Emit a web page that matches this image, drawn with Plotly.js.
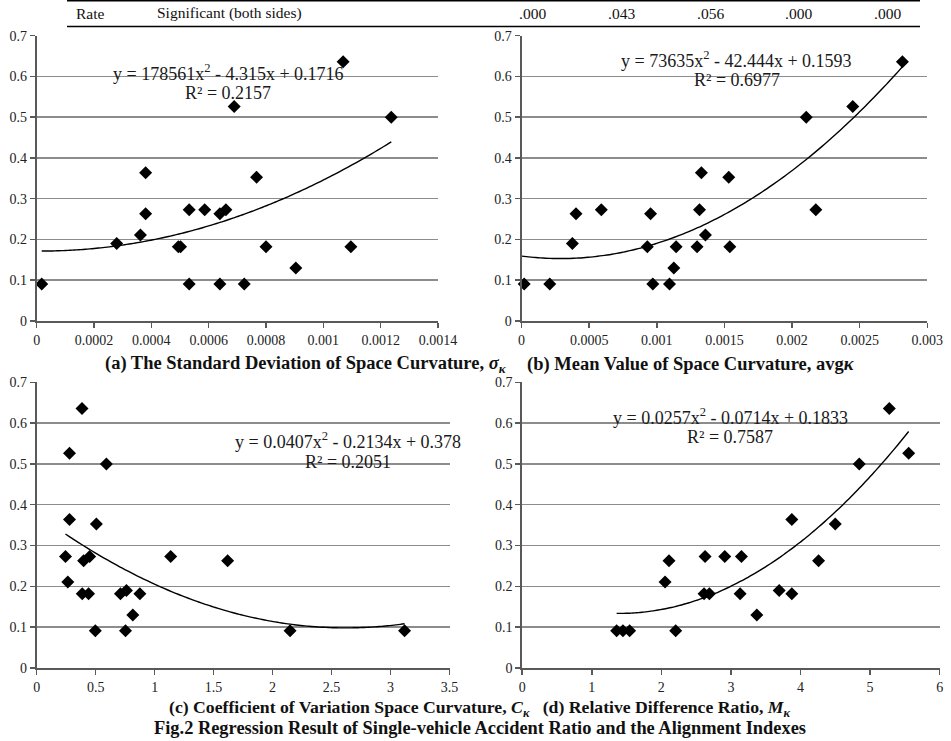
<!DOCTYPE html>
<html>
<head>
<meta charset="utf-8">
<script src="https://cdn.plot.ly/plotly-3.0.1.min.js"></script>
<style>
  html, body { margin: 0; padding: 0; background: #fff; }
  #chart { width: 951px; height: 741px; }
</style>
</head>
<body>
<div id="chart"></div>
<script>
// ---------- DATA ----------
// (a) Standard deviation of space curvature vs. single-vehicle accident ratio
const sigmaK = [0.0000175, 0.000279, 0.000362, 0.00038, 0.00038, 0.000494, 0.000502, 0.000532, 0.000532, 0.000586, 0.000639, 0.00066, 0.000639, 0.000689, 0.000724, 0.000767, 0.0008, 0.000904, 0.001069, 0.001096, 0.001237];
const ratioA = [0.091, 0.19, 0.211, 0.364, 0.263, 0.182, 0.182, 0.273, 0.091, 0.273, 0.263, 0.273, 0.091, 0.526, 0.091, 0.353, 0.182, 0.13, 0.636, 0.182, 0.5];
// (b) Mean value of space curvature
const avgK = [0.00002, 0.000209, 0.000376, 0.000403, 0.00059, 0.00093, 0.000954, 0.000971, 0.001094, 0.001126, 0.001143, 0.001298, 0.001316, 0.00133, 0.00136, 0.001532, 0.00154, 0.002105, 0.002176, 0.002449, 0.002816];
const ratioB = [0.091, 0.091, 0.19, 0.263, 0.273, 0.182, 0.263, 0.091, 0.091, 0.13, 0.182, 0.182, 0.273, 0.364, 0.211, 0.353, 0.182, 0.5, 0.273, 0.526, 0.636];
// (c) Coefficient of variation of space curvature
const cK = [0.384, 0.278, 0.591, 0.278, 0.506, 0.244, 0.398, 0.449, 0.264, 0.386, 0.44, 0.497, 0.71, 0.761, 0.753, 0.815, 0.875, 1.136, 1.619, 2.148, 3.119];
const ratioC = [0.636, 0.526, 0.5, 0.364, 0.353, 0.273, 0.263, 0.273, 0.211, 0.182, 0.182, 0.091, 0.182, 0.19, 0.091, 0.13, 0.182, 0.273, 0.263, 0.091, 0.091];
// (d) Relative difference ratio
const mK = [1.357, 1.448, 1.544, 2.053, 2.11, 2.206, 2.628, 2.614, 2.69, 2.911, 3.132, 3.151, 3.372, 3.693, 3.875, 3.875, 4.259, 4.499, 4.844, 5.276, 5.554];
const ratioD = [0.091, 0.091, 0.091, 0.211, 0.263, 0.091, 0.273, 0.182, 0.182, 0.273, 0.182, 0.273, 0.13, 0.19, 0.182, 0.364, 0.263, 0.353, 0.5, 0.636, 0.526];

// Printed polynomial trendline coefficients [x^2, x, const]
const trendA = [178561, -4.315, 0.1716];
const trendB = [73635, -42.444, 0.1593];
const trendC = [0.0407, -0.2134, 0.378];
const trendD = [0.0257, -0.0714, 0.1833];
const trendStartB = 0;   // Excel trendline in (b) starts at the origin

const eqTexts = ["y = 178561x<sup>2</sup> - 4.315x + 0.1716", "y = 73635x<sup>2</sup> - 42.444x + 0.1593",
                 "y = 0.0407x<sup>2</sup> - 0.2134x + 0.378", "y = 0.0257x<sup>2</sup> - 0.0714x + 0.1833"];
const r2Texts = ["R² = 0.2157", "R² = 0.6977", "R² = 0.2051", "R² = 0.7587"];

// Table row above the figure
const tableLabels = ["Rate", "Significant (both sides)"];
const tableValues = [".000", ".043", ".056", ".000", ".000"];

const captionA = "<b>(a) The Standard Deviation of Space Curvature, <i>σ<sub>κ</sub></i></b>";
const captionB = "<b>(b) Mean Value of Space Curvature, avg<i>κ</i></b>";
const captionCD = "<b>(c) Coefficient of Variation Space Curvature, <i>C<sub>κ</sub></i>   (d) Relative Difference Ratio, <i>M<sub>κ</sub></i></b>";
const captionFig = "<b>Fig.2 Regression Result of Single-vehicle Accident Ratio and the Alignment Indexes</b>";

// ---------- BUILD ----------
const W = 951, H = 741;
const FONT = 'Liberation Serif, Times New Roman, serif';

function curve(coef, xs, x0) {
  const lo = (x0 !== undefined) ? x0 : Math.min(...xs);
  const hi = Math.max(...xs);
  const n = 80, cx = [], cy = [];
  for (let i = 0; i <= n; i++) {
    const x = lo + (hi - lo) * i / n;
    cx.push(x);
    cy.push(coef[0] * x * x + coef[1] * x + coef[2]);
  }
  return {cx, cy};
}

const panels = [
  {xs: sigmaK, ys: ratioA, coef: trendA, x0: undefined, xr: [0, 0.0014], dt: 0.0002, px: [36.7, 438], py: [321, 35.7]},
  {xs: avgK, ys: ratioB, coef: trendB, x0: trendStartB, xr: [0, 0.003], dt: 0.0005, px: [521.5, 927.3], py: [321, 35.7]},
  {xs: cK, ys: ratioC, coef: trendC, x0: undefined, xr: [0, 3.5], dt: 0.5, px: [36.7, 449.5], py: [668, 382.3]},
  {xs: mK, ys: ratioD, coef: trendD, x0: undefined, xr: [0, 6], dt: 1, px: [522.2, 939.7], py: [668, 382.3]},
];

const traces = [];
const layout = {
  width: W, height: H,
  margin: {l: 0, r: 0, t: 0, b: 0},
  paper_bgcolor: '#ffffff', plot_bgcolor: 'rgba(0,0,0,0)',
  showlegend: false,
  font: {family: FONT, size: 14, color: '#222'},
  annotations: [], shapes: []
};

panels.forEach((p, i) => {
  const k = i === 0 ? '' : String(i + 1);
  const xa = 'x' + k, ya = 'y' + k;
  traces.push({
    type: 'scatter', mode: 'markers', x: p.xs, y: p.ys, xaxis: xa, yaxis: ya,
    marker: {symbol: 'diamond', size: 10, color: '#000'}, cliponaxis: false, hoverinfo: 'skip'
  });
  const c = curve(p.coef, p.xs, p.x0);
  traces.push({
    type: 'scatter', mode: 'lines', x: c.cx, y: c.cy, xaxis: xa, yaxis: ya,
    line: {color: '#000', width: 1.4, shape: 'spline'}, cliponaxis: false, hoverinfo: 'skip'
  });
  layout['xaxis' + k] = {
    domain: [p.px[0] / W, p.px[1] / W], range: p.xr, dtick: p.dt, tick0: 0,
    anchor: ya, showline: true, linecolor: '#595959', linewidth: 2,
    ticks: 'outside', ticklen: 5, tickcolor: '#595959', tickwidth: 1.5,
    showgrid: false, zeroline: false, tickformat: '~g',
    tickfont: {family: FONT, size: 14, color: '#222'}, fixedrange: true
  };
  layout['yaxis' + k] = {
    domain: [(H - p.py[0]) / H, (H - p.py[1]) / H], range: [0, 0.7], dtick: 0.1, tick0: 0,
    anchor: xa, showline: true, linecolor: '#595959', linewidth: 2,
    ticks: 'outside', ticklen: 5, tickcolor: '#595959', tickwidth: 1.5,
    showgrid: true, gridcolor: '#8c8c8c', gridwidth: 1.5, zeroline: false,
    tickfont: {family: FONT, size: 14, color: '#222'}, fixedrange: true
  };
});

// Trendline labels (positions in pixel-space of paper)
const eqPos = [[228, 72.3, 92.7], [736.5, 59.3, 80], [347.5, 441, 461.7], [730, 416, 436.7]];
eqPos.forEach((e, i) => {
  layout.annotations.push({xref: 'paper', yref: 'paper', x: e[0] / W, y: 1 - e[1] / H, xanchor: 'center', yanchor: 'middle',
    text: eqTexts[i], showarrow: false, font: {family: FONT, size: 18, color: '#1a1a1a'}});
  layout.annotations.push({xref: 'paper', yref: 'paper', x: e[0] / W, y: 1 - e[2] / H, xanchor: 'center', yanchor: 'middle',
    text: r2Texts[i], showarrow: false, font: {family: FONT, size: 18, color: '#1a1a1a'}});
});

// Captions
function ann(text, x, y, anchor, size) {
  layout.annotations.push({xref: 'paper', yref: 'paper', x: x / W, y: 1 - y / H, xanchor: anchor, yanchor: 'middle',
    text: text, showarrow: false, font: {family: FONT, size: size, color: '#111'}});
}
ann(captionA, 103, 364, 'left', 18.5);
ann(captionB, 525, 364, 'left', 18.5);
ann(captionCD, 480, 708, 'center', 17.7);
ann(captionFig, 480, 728, 'center', 18.4);

// Table row
const labelX = [90, 229];
tableLabels.forEach((t, i) => ann(t, labelX[i], 13, 'center', 15.5));
const valueX = [532, 621, 710, 798, 887];
tableValues.forEach((t, i) => ann(t, valueX[i], 13, 'center', 15.5));
layout.shapes.push({type: 'line', xref: 'paper', yref: 'paper', x0: 67 / W, x1: 920 / W, y0: 1 - 26.5 / H, y1: 1 - 26.5 / H,
  line: {color: '#000', width: 1.5}});
layout.shapes.push({type: 'line', xref: 'paper', yref: 'paper', x0: 67 / W, x1: 920 / W, y0: 1 - 0.8 / H, y1: 1 - 0.8 / H,
  line: {color: '#000', width: 1.5}});

Plotly.newPlot('chart', traces, layout, {displayModeBar: false, staticPlot: true});
</script>
</body>
</html>
